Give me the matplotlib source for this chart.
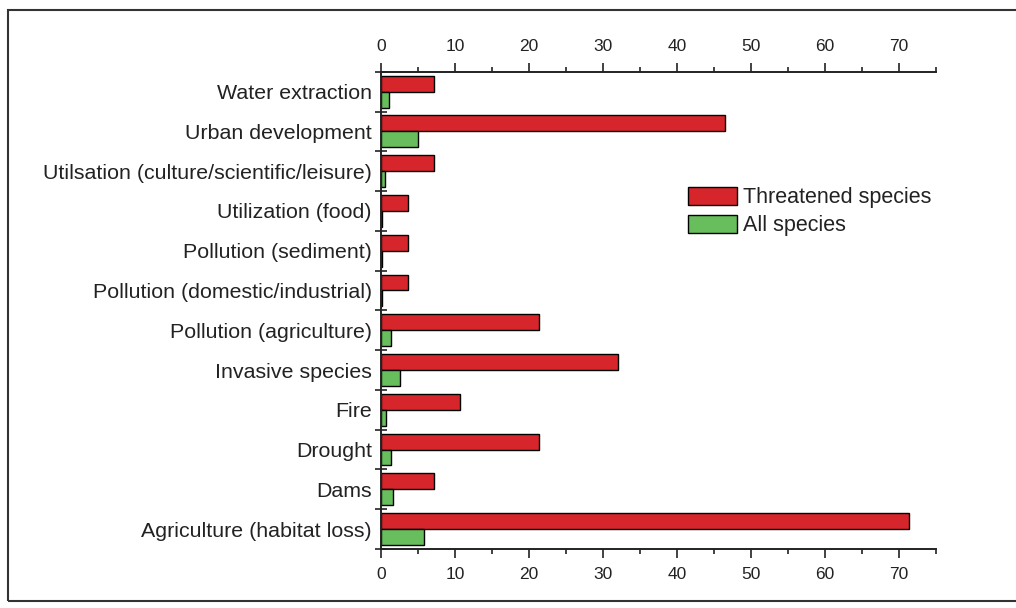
import matplotlib
matplotlib.use("Agg")
import numpy as np
import matplotlib.pyplot as plt
from matplotlib.patches import Rectangle
from matplotlib.ticker import MultipleLocator, FixedLocator

plt.rcParams["font.family"] = ["Liberation Sans", "DejaVu Sans"]

categories = [
    "Water extraction",
    "Urban development",
    "Utilsation (culture/scientific/leisure)",
    "Utilization (food)",
    "Pollution (sediment)",
    "Pollution (domestic/industrial)",
    "Pollution (agriculture)",
    "Invasive species",
    "Fire",
    "Drought",
    "Dams",
    "Agriculture (habitat loss)",
]
threatened = [7.1, 46.5, 7.1, 3.6, 3.6, 3.6, 21.4, 32.1, 10.7, 21.4, 7.1, 71.4]
all_species = [1.1, 5.0, 0.5, 0.2, 0.2, 0.2, 1.4, 2.6, 0.7, 1.4, 1.6, 5.8]

RED = "#D7262B"
GREEN = "#68BE5C"
INK = "#222222"

fig = plt.figure(figsize=(10.16, 6.08), dpi=100)
ax = fig.add_axes([0.375, 0.097, 0.546, 0.785])

y = np.arange(len(categories))
h = 0.40
ax.barh(y - h / 2, threatened, height=h, color=RED, edgecolor="black",
        linewidth=1.0, label="Threatened species")
ax.barh(y + h / 2, all_species, height=h, color=GREEN, edgecolor="black",
        linewidth=1.0, label="All species")

ax.set_ylim(len(categories) - 0.5, -0.5)
ax.set_xlim(0, 75)

# x axis: numbers on top and bottom
ax.xaxis.set_major_locator(MultipleLocator(10))
ax.xaxis.set_minor_locator(MultipleLocator(5))
ax.tick_params(axis="x", which="both", top=True, bottom=True,
               labeltop=True, labelbottom=True, direction="out",
               labelsize=12.5, colors=INK, width=1.2)
ax.tick_params(axis="x", which="major", length=6.5, pad=6.5)
ax.tick_params(axis="x", which="minor", length=3.5)

# y axis: labels at centres, ticks at group boundaries
ax.set_yticks(y)
ax.set_yticklabels(categories)
ax.yaxis.set_minor_locator(FixedLocator(np.arange(-0.5, len(categories), 1.0)))
ax.tick_params(axis="y", which="major", length=0, pad=6.5, labelsize=15.4,
               labelcolor=INK)
ax.tick_params(axis="y", which="minor", direction="inout", length=8,
               width=1.2, color=INK)

for side in ["top", "bottom", "left"]:
    ax.spines[side].set_linewidth(1.4)
    ax.spines[side].set_color(INK)
ax.spines["right"].set_visible(False)

leg = ax.legend(loc="upper left", bbox_to_anchor=(0.5385, 0.777), frameon=False,
                fontsize=15.5, handlelength=2.25, handleheight=0.95,
                handletextpad=0.3, labelspacing=0.28, borderaxespad=0)
for t in leg.get_texts():
    t.set_color(INK)

# outer frame (right side runs off the image)
fig.patches.append(Rectangle((0.0079, 0.0115), 1.0, 0.972, transform=fig.transFigure,
                             fill=False, edgecolor="#333333", linewidth=1.5))

fig.savefig("out.png", dpi=100)
